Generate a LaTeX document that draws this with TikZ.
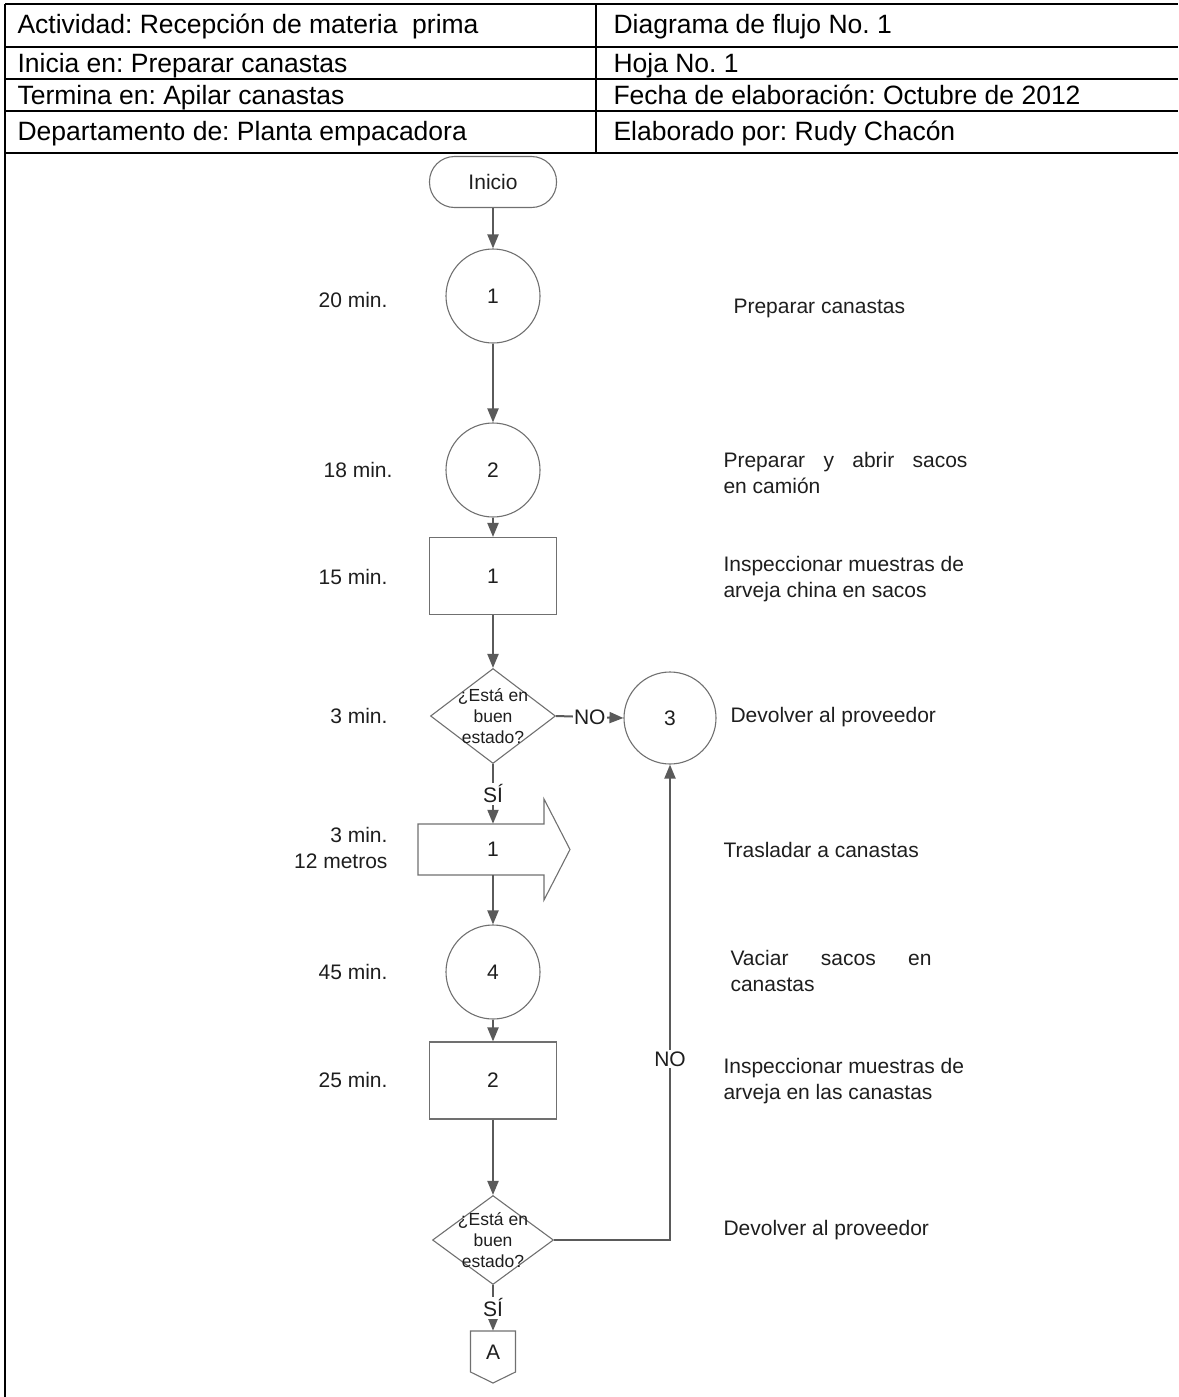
\documentclass[tikz,border=0pt]{standalone}
\usepackage{fontspec}
\setmainfont{Liberation Sans}
\frenchspacing
\usetikzlibrary{shapes.geometric,arrows.meta,calc}

\definecolor{shapeline}{HTML}{707070}
\definecolor{flowline}{HTML}{5A5A5A}
\definecolor{ink}{HTML}{1E1E1E}

\tikzset{
  every node/.style={font=\fontsize{21}{26}\selectfont, text=ink},
  frame/.style={line width=2.6pt, draw=black},
  terminal/.style={rectangle, rounded corners=25pt, draw=shapeline, line width=1.1pt,
    minimum width=127pt, minimum height=51pt, inner sep=0pt},
  opcircle/.style={circle, draw=shapeline, line width=1.1pt, minimum size=94pt, inner sep=0pt},
  inspbox/.style={rectangle, draw=shapeline, line width=1.1pt,
    minimum width=127pt, minimum height=77pt, inner sep=0pt},
  decision/.style={diamond, draw=shapeline, line width=1.1pt, inner sep=0pt},
  decisiontext/.style={font=\fontsize{17.5}{21}\selectfont, align=center, text=ink},
  outline/.style={draw=shapeline, line width=1.1pt},
  flow/.style={draw=flowline, line width=2pt, -{Triangle[width=11pt,length=14pt]}},
  flowlabel/.style={fill=white, inner sep=1.5pt},
  timelabel/.style={anchor=east, align=right},
  desc/.style={anchor=west, align=left},
  headtext/.style={anchor=base west, font=\fontsize{26.5}{30}\selectfont, text=black},
}

\begin{document}
\begin{tikzpicture}[x=1pt, y=-1pt]
  \useasboundingbox (0,0) rectangle (1178,1397);

  % heading table
  \draw[frame] (5,4) -- (1178,4);
  \draw[frame] (5,47) -- (1178,47);
  \draw[frame] (5,79) -- (1178,79);
  \draw[frame] (5,111) -- (1178,111);
  \draw[frame] (5,153) -- (1178,153);
  \draw[frame] (5,4) -- (5,1397);
  \draw[frame] (596,4) -- (596,153);

  \node[headtext] (h1) at (14,34) {Actividad: Recepción de materia\ \ prima};
  \node[headtext] (h2) at (14,72) {Inicia en: Preparar canastas};
  \node[headtext] (h3) at (14,104) {Termina en: Apilar canastas};
  \node[headtext] (h4) at (14,140) {Departamento de: Planta empacadora};
  \node[headtext] (h5) at (610,34) {Diagrama de flujo No. 1};
  \node[headtext] (h6) at (610,72) {Hoja No. 1};
  \node[headtext] (h7) at (610,104) {Fecha de elaboración: Octubre de 2012};
  \node[headtext] (h8) at (610,140) {Elaborado por: Rudy Chacón};

  % flow symbols
  \node[terminal] (ini) at (493,182) {Inicio};
  \node[opcircle] (c1) at (493,296) {1};
  \node[opcircle] (c2) at (493,470) {2};
  \node[inspbox] (r1) at (493,576) {1};
  \node[decision, minimum width=125pt, minimum height=95pt,
        label={[decisiontext]center:{¿Está en\\buen\\estado?}}] (d1) at (493,716) {};
  \node[opcircle, minimum size=92pt] (c3) at (670,718) {3};

  % transport arrow
  \node[minimum width=0pt, minimum height=51pt, inner sep=0pt] (tr) at (493,849.5) {1};
  \draw[outline] (418,824) -- (544,824) -- (544,799) -- (570,849.5)
        -- (544,900) -- (544,875) -- (418,875) -- cycle;

  \node[opcircle] (c4) at (493,972) {4};
  \node[inspbox] (r2) at (493,1080.5) {2};
  \node[decision, minimum width=121pt, minimum height=89pt,
        label={[decisiontext]center:{¿Está en\\buen\\estado?}}] (d2) at (493,1240) {};

  % off-page connector
  \node[minimum height=42pt, minimum width=45pt, inner sep=0pt] (A) at (493,1352) {A};
  \draw[outline] (470.5,1331) -- (515.5,1331) -- (515.5,1372) -- (493,1383)
        -- (470.5,1372) -- cycle;

  % connectors
  \draw[flow] (ini.south) -- (c1.north);
  \draw[flow] (c1.south) -- (c2.north);
  \draw[flow] (c2.south) -- (r1.north);
  \draw[flow] (r1.south) -- (d1.north);
  \draw[flow] (d1.east) -- node[flowlabel] {NO} (c3.west);
  \draw[flow] (d1.south) -- node[flowlabel] {SÍ} (tr.north);
  \draw[flow] (tr.south) -- (c4.north);
  \draw[flow] (c4.south) -- (r2.north);
  \draw[flow] (r2.south) -- (d2.north);
  \draw[flow] (d2.east) -| node[flowlabel, pos=0.69] {NO} (c3.south);
  \draw[flow] (d2.south) -- node[flowlabel] {SÍ} (A.north);

  % times
  \node[timelabel] (t1) at (391,300) {20 min.};
  \node[timelabel] (t2) at (396,470) {18 min.};
  \node[timelabel] (t3) at (391,577) {15 min.};
  \node[timelabel] (t4) at (391,716) {3 min.};
  \node[timelabel] (t5) at (391,848) {3 min.\\12 metros};
  \node[timelabel] (t6) at (391,972) {45 min.};
  \node[timelabel] (t7) at (391,1080) {25 min.};

  % descriptions
  \node[desc] (e1) at (730,308) {Preparar canastas};
  \node[desc] (e2) at (720,473) {\makebox[244pt][s]{Preparar y abrir sacos}\\en camión};
  \node[desc] (e3) at (720,579) {Inspeccionar muestras de\\arveja china en sacos};
  \node[desc] (e4) at (727,717) {Devolver al proveedor};
  \node[desc] (e5) at (720,850) {Trasladar a canastas};
  \node[desc] (e6) at (727,971) {\makebox[201pt][s]{Vaciar sacos en}\\canastas};
  \node[desc] (e7) at (720,1081) {Inspeccionar muestras de\\arveja en las canastas};
  \node[desc] (e8) at (720,1230) {Devolver al proveedor};
\end{tikzpicture}
\end{document}
